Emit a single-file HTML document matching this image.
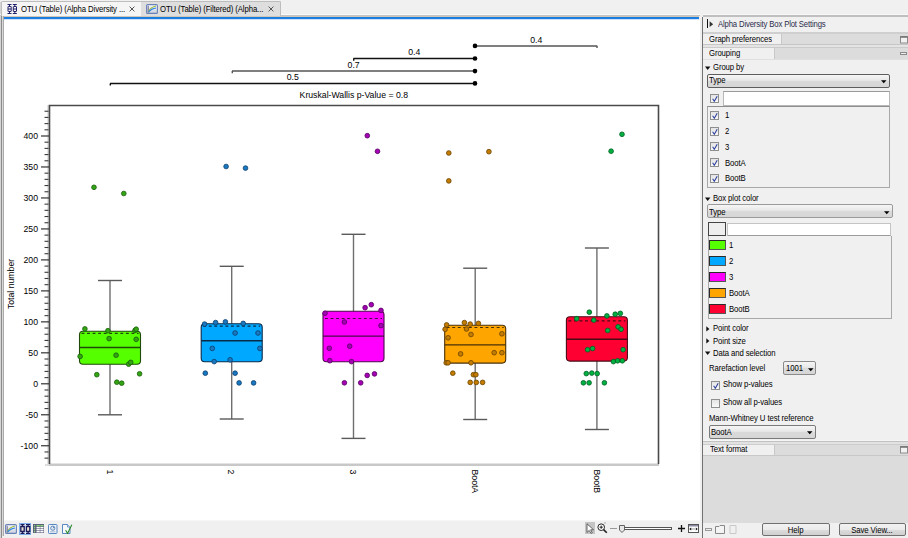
<!DOCTYPE html>
<html><head><meta charset="utf-8">
<style>
*{box-sizing:border-box;margin:0;padding:0}
html,body{width:908px;height:538px;overflow:hidden;background:#f0f0f0;font-family:"Liberation Sans",sans-serif;}
.a{position:absolute}
.t{position:absolute;font-size:8.6px;letter-spacing:-0.1px;color:#000;white-space:nowrap;line-height:10px;transform:scaleX(0.9);transform-origin:0 0}
svg text.ax{font-family:"Liberation Sans",sans-serif;font-size:8.7px;fill:#000}
.cb{position:absolute;width:9px;height:9px;border:1px solid #8e8f8f;background:linear-gradient(#e4e4e4,#f8f8f8)}
.ck{position:absolute;left:1px;top:0px;width:7px;height:7px}
.dd{position:absolute;border:1px solid #7a7a7a;border-radius:2px;background:linear-gradient(#f6f6f6 0%,#e8e8e8 45%,#dadada 50%,#d6d6d6 100%)}
.arr{position:absolute;width:0;height:0;border-left:2.75px solid transparent;border-right:2.75px solid transparent;border-top:3.5px solid #000}
.tri{position:absolute;width:0;height:0;border-left:2.4px solid transparent;border-right:2.4px solid transparent;border-top:3.4px solid #111}
.trr{position:absolute;width:0;height:0;border-top:2.3px solid transparent;border-bottom:2.3px solid transparent;border-left:3px solid #111}
.btn{position:absolute;border:1px solid #707070;border-radius:2px;background:linear-gradient(#f2f2f2 0%,#ebebeb 50%,#dddddd 51%,#cfcfcf 100%);text-align:center;line-height:10px;padding-top:0.6px}
.btn span{display:inline-block;vertical-align:top;line-height:10px;font-size:8.6px;letter-spacing:-0.1px;color:#000;transform:scaleX(0.9)}
</style></head><body>
<!-- left borders -->
<div class="a" style="left:0;top:0;width:4px;height:538px;background:#f0f0f0"></div>
<div class="a" style="left:0;top:2px;width:1px;height:536px;background:#d4d4d4"></div>
<div class="a" style="left:1px;top:2px;width:1px;height:536px;background:#8c8c8c"></div>
<div class="a" style="left:2px;top:16px;width:1px;height:520px;background:#d8d8d8"></div>
<div class="a" style="left:3px;top:16px;width:1px;height:520px;background:#ababab"></div>

<!-- tabs -->
<div class="a" style="left:0;top:14.3px;width:700px;height:0.7px;background:#fafafa"></div>
<div class="a" style="left:0;top:15px;width:700px;height:1px;background:#c4c4c4"></div>
<div class="a" style="left:1px;top:1.3px;width:141px;height:14.7px;background:#f5f5f5;border:1px solid #bdbdbd;border-bottom:none;border-radius:1.5px 1.5px 0 0"></div>
<div class="a" style="left:141px;top:1.3px;width:140px;height:14.7px;background:#dedede;border:1px solid #bdbdbd;border-bottom:none;border-left:none;border-radius:0 1.5px 0 0"></div>
<div class="a" style="left:4px;top:16px;width:695px;height:1px;background:#d2c6b8"></div>
<div class="a" style="left:4px;top:17px;width:695px;height:2px;background:#1a7de0"></div>
<div class="a" style="left:4px;top:19px;width:695px;height:1px;background:#cfe4fa"></div>
<!-- tab1 icon -->
<svg class="a" style="left:7px;top:4px" width="11" height="10" viewBox="0 0 11 10">
<g fill="none" stroke="#22226a" stroke-width="1">
<path d="M0.5 0.5H4.5M2.5 0.5V2.5M2.5 7.5V9.5M0.5 9.5H4.5M5.8 0.5H9.8M7.8 0.5V2.5M7.8 7.5V9.5M5.8 9.5H9.8"/>
<rect x="1" y="2.5" width="3.2" height="5" rx="0.3"/>
<rect x="6.3" y="2.5" width="3.2" height="5" rx="0.3"/>
<path d="M1 5H4M6.3 5H9.3"/>
</g></svg>
<div class="t" style="left:20.5px;top:3.5px">OTU (Table) (Alpha Diversity ...</div>
<svg class="a" style="left:129px;top:6px" width="6" height="6" viewBox="0 0 6 6"><path d="M0.6 0.6L5.4 5.4M5.4 0.6L0.6 5.4" stroke="#555" stroke-width="1"/></svg>
<!-- tab2 icon -->
<svg class="a" style="left:146px;top:4px" width="12" height="10" viewBox="0 0 12 10">
<defs><linearGradient id="cg2" x1="0" y1="0" x2="0" y2="1"><stop offset="0" stop-color="#fbfcfe"/><stop offset="1" stop-color="#c9cfdc"/></linearGradient></defs>
<rect x="0.6" y="0.6" width="10.8" height="8.8" rx="1" fill="url(#cg2)" stroke="#6a80b8" stroke-width="1.1"/>
<path d="M2.2 1.8V8.4" stroke="#5a5a7a" stroke-width="0.9"/>
<path d="M2.5 8.3 Q4 3.2 10 2" fill="none" stroke="#9ab83a" stroke-width="1.1"/>
<path d="M2.5 8.3 Q5 4.8 10 4" fill="none" stroke="#2a80e8" stroke-width="1.1"/>
</svg>
<div class="t" style="left:160px;top:3.5px">OTU (Table) (Filtered) (Alpha...</div>
<svg class="a" style="left:268px;top:6px" width="6" height="6" viewBox="0 0 6 6"><path d="M0.6 0.6L5.4 5.4M5.4 0.6L0.6 5.4" stroke="#555" stroke-width="1"/></svg>

<!-- content -->
<div class="a" style="left:4px;top:20px;width:696px;height:501px;background:#fff"></div>
<svg class="a" style="left:0;top:0" width="700" height="521" viewBox="0 0 700 521">
<rect x="47.3" y="105" width="2" height="359" fill="#d9d9d9"/>
<rect x="49" y="463.5" width="610" height="2.5" fill="#c8c8c8"/>
<path d="M49.5 464 V105.5 H658.5 V464" fill="none" stroke="#4a4a4a" stroke-width="1.6"/>
<line x1="44.5" y1="458.14" x2="48.5" y2="458.14" stroke="#3a3a3a" stroke-width="1.1"/>
<line x1="44.5" y1="451.95" x2="48.5" y2="451.95" stroke="#3a3a3a" stroke-width="1.1"/>
<line x1="41" y1="445.75" x2="49" y2="445.75" stroke="#333" stroke-width="1.2"/>
<text x="38" y="449.15" text-anchor="end" class="ax">-100</text>
<line x1="44.5" y1="439.56" x2="48.5" y2="439.56" stroke="#3a3a3a" stroke-width="1.1"/>
<line x1="44.5" y1="433.36" x2="48.5" y2="433.36" stroke="#3a3a3a" stroke-width="1.1"/>
<line x1="44.5" y1="427.17" x2="48.5" y2="427.17" stroke="#3a3a3a" stroke-width="1.1"/>
<line x1="44.5" y1="420.97" x2="48.5" y2="420.97" stroke="#3a3a3a" stroke-width="1.1"/>
<line x1="41" y1="414.78" x2="49" y2="414.78" stroke="#333" stroke-width="1.2"/>
<text x="38" y="418.18" text-anchor="end" class="ax">-50</text>
<line x1="44.5" y1="408.58" x2="48.5" y2="408.58" stroke="#3a3a3a" stroke-width="1.1"/>
<line x1="44.5" y1="402.38" x2="48.5" y2="402.38" stroke="#3a3a3a" stroke-width="1.1"/>
<line x1="44.5" y1="396.19" x2="48.5" y2="396.19" stroke="#3a3a3a" stroke-width="1.1"/>
<line x1="44.5" y1="390.00" x2="48.5" y2="390.00" stroke="#3a3a3a" stroke-width="1.1"/>
<line x1="41" y1="383.80" x2="49" y2="383.80" stroke="#333" stroke-width="1.2"/>
<text x="38" y="387.20" text-anchor="end" class="ax">0</text>
<line x1="44.5" y1="377.61" x2="48.5" y2="377.61" stroke="#3a3a3a" stroke-width="1.1"/>
<line x1="44.5" y1="371.41" x2="48.5" y2="371.41" stroke="#3a3a3a" stroke-width="1.1"/>
<line x1="44.5" y1="365.22" x2="48.5" y2="365.22" stroke="#3a3a3a" stroke-width="1.1"/>
<line x1="44.5" y1="359.02" x2="48.5" y2="359.02" stroke="#3a3a3a" stroke-width="1.1"/>
<line x1="41" y1="352.82" x2="49" y2="352.82" stroke="#333" stroke-width="1.2"/>
<text x="38" y="356.22" text-anchor="end" class="ax">50</text>
<line x1="44.5" y1="346.63" x2="48.5" y2="346.63" stroke="#3a3a3a" stroke-width="1.1"/>
<line x1="44.5" y1="340.44" x2="48.5" y2="340.44" stroke="#3a3a3a" stroke-width="1.1"/>
<line x1="44.5" y1="334.24" x2="48.5" y2="334.24" stroke="#3a3a3a" stroke-width="1.1"/>
<line x1="44.5" y1="328.05" x2="48.5" y2="328.05" stroke="#3a3a3a" stroke-width="1.1"/>
<line x1="41" y1="321.85" x2="49" y2="321.85" stroke="#333" stroke-width="1.2"/>
<text x="38" y="325.25" text-anchor="end" class="ax">100</text>
<line x1="44.5" y1="315.65" x2="48.5" y2="315.65" stroke="#3a3a3a" stroke-width="1.1"/>
<line x1="44.5" y1="309.46" x2="48.5" y2="309.46" stroke="#3a3a3a" stroke-width="1.1"/>
<line x1="44.5" y1="303.26" x2="48.5" y2="303.26" stroke="#3a3a3a" stroke-width="1.1"/>
<line x1="44.5" y1="297.07" x2="48.5" y2="297.07" stroke="#3a3a3a" stroke-width="1.1"/>
<line x1="41" y1="290.88" x2="49" y2="290.88" stroke="#333" stroke-width="1.2"/>
<text x="38" y="294.27" text-anchor="end" class="ax">150</text>
<line x1="44.5" y1="284.68" x2="48.5" y2="284.68" stroke="#3a3a3a" stroke-width="1.1"/>
<line x1="44.5" y1="278.49" x2="48.5" y2="278.49" stroke="#3a3a3a" stroke-width="1.1"/>
<line x1="44.5" y1="272.29" x2="48.5" y2="272.29" stroke="#3a3a3a" stroke-width="1.1"/>
<line x1="44.5" y1="266.10" x2="48.5" y2="266.10" stroke="#3a3a3a" stroke-width="1.1"/>
<line x1="41" y1="259.90" x2="49" y2="259.90" stroke="#333" stroke-width="1.2"/>
<text x="38" y="263.30" text-anchor="end" class="ax">200</text>
<line x1="44.5" y1="253.71" x2="48.5" y2="253.71" stroke="#3a3a3a" stroke-width="1.1"/>
<line x1="44.5" y1="247.51" x2="48.5" y2="247.51" stroke="#3a3a3a" stroke-width="1.1"/>
<line x1="44.5" y1="241.31" x2="48.5" y2="241.31" stroke="#3a3a3a" stroke-width="1.1"/>
<line x1="44.5" y1="235.12" x2="48.5" y2="235.12" stroke="#3a3a3a" stroke-width="1.1"/>
<line x1="41" y1="228.93" x2="49" y2="228.93" stroke="#333" stroke-width="1.2"/>
<text x="38" y="232.33" text-anchor="end" class="ax">250</text>
<line x1="44.5" y1="222.73" x2="48.5" y2="222.73" stroke="#3a3a3a" stroke-width="1.1"/>
<line x1="44.5" y1="216.53" x2="48.5" y2="216.53" stroke="#3a3a3a" stroke-width="1.1"/>
<line x1="44.5" y1="210.34" x2="48.5" y2="210.34" stroke="#3a3a3a" stroke-width="1.1"/>
<line x1="44.5" y1="204.15" x2="48.5" y2="204.15" stroke="#3a3a3a" stroke-width="1.1"/>
<line x1="41" y1="197.95" x2="49" y2="197.95" stroke="#333" stroke-width="1.2"/>
<text x="38" y="201.35" text-anchor="end" class="ax">300</text>
<line x1="44.5" y1="191.75" x2="48.5" y2="191.75" stroke="#3a3a3a" stroke-width="1.1"/>
<line x1="44.5" y1="185.56" x2="48.5" y2="185.56" stroke="#3a3a3a" stroke-width="1.1"/>
<line x1="44.5" y1="179.36" x2="48.5" y2="179.36" stroke="#3a3a3a" stroke-width="1.1"/>
<line x1="44.5" y1="173.17" x2="48.5" y2="173.17" stroke="#3a3a3a" stroke-width="1.1"/>
<line x1="41" y1="166.97" x2="49" y2="166.97" stroke="#333" stroke-width="1.2"/>
<text x="38" y="170.38" text-anchor="end" class="ax">350</text>
<line x1="44.5" y1="160.78" x2="48.5" y2="160.78" stroke="#3a3a3a" stroke-width="1.1"/>
<line x1="44.5" y1="154.58" x2="48.5" y2="154.58" stroke="#3a3a3a" stroke-width="1.1"/>
<line x1="44.5" y1="148.39" x2="48.5" y2="148.39" stroke="#3a3a3a" stroke-width="1.1"/>
<line x1="44.5" y1="142.19" x2="48.5" y2="142.19" stroke="#3a3a3a" stroke-width="1.1"/>
<line x1="41" y1="136.00" x2="49" y2="136.00" stroke="#333" stroke-width="1.2"/>
<text x="38" y="139.40" text-anchor="end" class="ax">400</text>
<line x1="44.5" y1="129.80" x2="48.5" y2="129.80" stroke="#3a3a3a" stroke-width="1.1"/>
<line x1="44.5" y1="123.61" x2="48.5" y2="123.61" stroke="#3a3a3a" stroke-width="1.1"/>
<line x1="44.5" y1="117.41" x2="48.5" y2="117.41" stroke="#3a3a3a" stroke-width="1.1"/>
<line x1="44.5" y1="111.22" x2="48.5" y2="111.22" stroke="#3a3a3a" stroke-width="1.1"/>
<line x1="45" y1="465" x2="49" y2="465" stroke="#bbb" stroke-width="1"/>
<text transform="translate(14.2,284) rotate(-90)" text-anchor="middle" class="ax">Total number</text>
<text x="353.8" y="98.2" text-anchor="middle" class="ax">Kruskal-Wallis p-Value = 0.8</text>
<line x1="110.0" y1="83.4" x2="475.0" y2="83.4" stroke="#111" stroke-width="1.5"/>
<line x1="110.3" y1="83.4" x2="110.3" y2="85.60000000000001" stroke="#111" stroke-width="1.4"/>
<circle cx="475" cy="83.4" r="2.3" fill="#000"/>
<text x="292.8" y="80.2" text-anchor="middle" class="ax">0.5</text>
<line x1="232.0" y1="71.1" x2="475.0" y2="71.1" stroke="#555" stroke-width="1.5"/>
<line x1="232.3" y1="71.1" x2="232.3" y2="73.3" stroke="#555" stroke-width="1.4"/>
<circle cx="475" cy="71.1" r="2.3" fill="#000"/>
<text x="353.6" y="67.7" text-anchor="middle" class="ax">0.7</text>
<line x1="353.4" y1="58.5" x2="475.0" y2="58.5" stroke="#111" stroke-width="1.5"/>
<line x1="353.7" y1="58.5" x2="353.7" y2="60.7" stroke="#111" stroke-width="1.4"/>
<circle cx="475" cy="58.5" r="2.3" fill="#000"/>
<text x="414.2" y="55.4" text-anchor="middle" class="ax">0.4</text>
<line x1="475.0" y1="45.9" x2="597.3" y2="45.9" stroke="#555" stroke-width="1.5"/>
<line x1="597.0" y1="45.9" x2="597.0" y2="48.1" stroke="#555" stroke-width="1.4"/>
<circle cx="475" cy="45.9" r="2.3" fill="#000"/>
<text x="536.3" y="42.9" text-anchor="middle" class="ax">0.4</text>
<line x1="110.0" y1="280.5" x2="110.0" y2="414.8" stroke="#6e6e6e" stroke-width="1.4"/>
<line x1="98.0" y1="280.5" x2="122.0" y2="280.5" stroke="#5a5a5a" stroke-width="1.4"/>
<line x1="98.0" y1="414.8" x2="122.0" y2="414.8" stroke="#5a5a5a" stroke-width="1.4"/>
<rect x="79.50" y="331.2" width="61" height="33.10" rx="3.5" ry="3.5" fill="#55ff00" stroke="#1f4a0a" stroke-width="1.1"/>
<line x1="79.50" y1="347.5" x2="140.50" y2="347.5" stroke="#1f4a0a" stroke-width="1.4"/>
<line x1="81.50" y1="333.3" x2="138.50" y2="333.3" stroke="#1f4a0a" stroke-width="1.2" stroke-dasharray="2.9,2.65"/>
<circle cx="94.0" cy="187.3" r="2.35" fill="#33a514" stroke="#1b5e0c" stroke-width="0.8"/>
<circle cx="123.8" cy="193.5" r="2.35" fill="#33a514" stroke="#1b5e0c" stroke-width="0.8"/>
<circle cx="84.9" cy="328.9" r="2.35" fill="#33a514" stroke="#1b5e0c" stroke-width="0.8"/>
<circle cx="107.9" cy="330.7" r="2.35" fill="#33a514" stroke="#1b5e0c" stroke-width="0.8"/>
<circle cx="135" cy="330.4" r="2.35" fill="#33a514" stroke="#1b5e0c" stroke-width="0.8"/>
<circle cx="136.2" cy="329.2" r="2.35" fill="#33a514" stroke="#1b5e0c" stroke-width="0.8"/>
<circle cx="109.1" cy="338.6" r="2.35" fill="#33a514" stroke="#1b5e0c" stroke-width="0.8"/>
<circle cx="136.2" cy="339.3" r="2.35" fill="#33a514" stroke="#1b5e0c" stroke-width="0.8"/>
<circle cx="80.1" cy="356.4" r="2.35" fill="#33a514" stroke="#1b5e0c" stroke-width="0.8"/>
<circle cx="116.1" cy="355.2" r="2.35" fill="#33a514" stroke="#1b5e0c" stroke-width="0.8"/>
<circle cx="128.7" cy="364.2" r="2.35" fill="#33a514" stroke="#1b5e0c" stroke-width="0.8"/>
<circle cx="130.7" cy="362.4" r="2.35" fill="#33a514" stroke="#1b5e0c" stroke-width="0.8"/>
<circle cx="96.8" cy="374.7" r="2.35" fill="#33a514" stroke="#1b5e0c" stroke-width="0.8"/>
<circle cx="139.6" cy="373.8" r="2.35" fill="#33a514" stroke="#1b5e0c" stroke-width="0.8"/>
<circle cx="116.8" cy="382.2" r="2.35" fill="#33a514" stroke="#1b5e0c" stroke-width="0.8"/>
<circle cx="121.7" cy="383.2" r="2.35" fill="#33a514" stroke="#1b5e0c" stroke-width="0.8"/>
<text transform="translate(106.70,469.5) rotate(90)" class="ax">1</text>
<line x1="231.7" y1="266.3" x2="231.7" y2="419.0" stroke="#6e6e6e" stroke-width="1.4"/>
<line x1="219.7" y1="266.3" x2="243.7" y2="266.3" stroke="#5a5a5a" stroke-width="1.4"/>
<line x1="219.7" y1="419.0" x2="243.7" y2="419.0" stroke="#5a5a5a" stroke-width="1.4"/>
<rect x="201.20" y="323.7" width="61" height="38.00" rx="3.5" ry="3.5" fill="#00a8ff" stroke="#0a2a4a" stroke-width="1.1"/>
<line x1="201.20" y1="340.8" x2="262.20" y2="340.8" stroke="#0a2a4a" stroke-width="1.4"/>
<line x1="203.20" y1="326.1" x2="260.20" y2="326.1" stroke="#0a2a4a" stroke-width="1.2" stroke-dasharray="2.9,2.65"/>
<circle cx="226.1" cy="166.5" r="2.35" fill="#1a78c0" stroke="#0b3f6e" stroke-width="0.8"/>
<circle cx="245.5" cy="168.1" r="2.35" fill="#1a78c0" stroke="#0b3f6e" stroke-width="0.8"/>
<circle cx="204.6" cy="324.1" r="2.35" fill="#1a78c0" stroke="#0b3f6e" stroke-width="0.8"/>
<circle cx="215.6" cy="322.6" r="2.35" fill="#1a78c0" stroke="#0b3f6e" stroke-width="0.8"/>
<circle cx="225.4" cy="321.9" r="2.35" fill="#1a78c0" stroke="#0b3f6e" stroke-width="0.8"/>
<circle cx="243.2" cy="323.4" r="2.35" fill="#1a78c0" stroke="#0b3f6e" stroke-width="0.8"/>
<circle cx="235.1" cy="333.0" r="2.35" fill="#1a78c0" stroke="#0b3f6e" stroke-width="0.8"/>
<circle cx="258" cy="333.0" r="2.35" fill="#1a78c0" stroke="#0b3f6e" stroke-width="0.8"/>
<circle cx="212.3" cy="348.4" r="2.35" fill="#1a78c0" stroke="#0b3f6e" stroke-width="0.8"/>
<circle cx="259.9" cy="348.4" r="2.35" fill="#1a78c0" stroke="#0b3f6e" stroke-width="0.8"/>
<circle cx="214.2" cy="361.6" r="2.35" fill="#1a78c0" stroke="#0b3f6e" stroke-width="0.8"/>
<circle cx="230.1" cy="359.8" r="2.35" fill="#1a78c0" stroke="#0b3f6e" stroke-width="0.8"/>
<circle cx="205.3" cy="373.2" r="2.35" fill="#1a78c0" stroke="#0b3f6e" stroke-width="0.8"/>
<circle cx="235.1" cy="373.2" r="2.35" fill="#1a78c0" stroke="#0b3f6e" stroke-width="0.8"/>
<circle cx="239.1" cy="382.9" r="2.35" fill="#1a78c0" stroke="#0b3f6e" stroke-width="0.8"/>
<circle cx="253.6" cy="382.9" r="2.35" fill="#1a78c0" stroke="#0b3f6e" stroke-width="0.8"/>
<text transform="translate(228.40,469.5) rotate(90)" class="ax">2</text>
<line x1="353.5" y1="234.3" x2="353.5" y2="438.4" stroke="#6e6e6e" stroke-width="1.4"/>
<line x1="341.5" y1="234.3" x2="365.5" y2="234.3" stroke="#5a5a5a" stroke-width="1.4"/>
<line x1="341.5" y1="438.4" x2="365.5" y2="438.4" stroke="#5a5a5a" stroke-width="1.4"/>
<rect x="323.00" y="311.2" width="61" height="50.60" rx="3.5" ry="3.5" fill="#ff00ff" stroke="#4a0a4a" stroke-width="1.1"/>
<line x1="323.00" y1="336.1" x2="384.00" y2="336.1" stroke="#4a0a4a" stroke-width="1.4"/>
<line x1="325.00" y1="318.5" x2="382.00" y2="318.5" stroke="#4a0a4a" stroke-width="1.2" stroke-dasharray="2.9,2.65"/>
<circle cx="367.3" cy="135.7" r="2.35" fill="#a400b4" stroke="#55005e" stroke-width="0.8"/>
<circle cx="377.5" cy="151.3" r="2.35" fill="#a400b4" stroke="#55005e" stroke-width="0.8"/>
<circle cx="325" cy="313.2" r="2.35" fill="#a400b4" stroke="#55005e" stroke-width="0.8"/>
<circle cx="365.1" cy="307.7" r="2.35" fill="#a400b4" stroke="#55005e" stroke-width="0.8"/>
<circle cx="371.3" cy="304.7" r="2.35" fill="#a400b4" stroke="#55005e" stroke-width="0.8"/>
<circle cx="381" cy="310.4" r="2.35" fill="#a400b4" stroke="#55005e" stroke-width="0.8"/>
<circle cx="344.4" cy="322" r="2.35" fill="#a400b4" stroke="#55005e" stroke-width="0.8"/>
<circle cx="381" cy="325.6" r="2.35" fill="#a400b4" stroke="#55005e" stroke-width="0.8"/>
<circle cx="329.3" cy="348.3" r="2.35" fill="#a400b4" stroke="#55005e" stroke-width="0.8"/>
<circle cx="349.7" cy="346.2" r="2.35" fill="#a400b4" stroke="#55005e" stroke-width="0.8"/>
<circle cx="329.8" cy="360.7" r="2.35" fill="#a400b4" stroke="#55005e" stroke-width="0.8"/>
<circle cx="351.5" cy="361.6" r="2.35" fill="#a400b4" stroke="#55005e" stroke-width="0.8"/>
<circle cx="367.2" cy="375.4" r="2.35" fill="#a400b4" stroke="#55005e" stroke-width="0.8"/>
<circle cx="374.5" cy="373.9" r="2.35" fill="#a400b4" stroke="#55005e" stroke-width="0.8"/>
<circle cx="344.4" cy="382.8" r="2.35" fill="#a400b4" stroke="#55005e" stroke-width="0.8"/>
<circle cx="360.7" cy="382.8" r="2.35" fill="#a400b4" stroke="#55005e" stroke-width="0.8"/>
<text transform="translate(350.20,469.5) rotate(90)" class="ax">3</text>
<line x1="475.2" y1="268.2" x2="475.2" y2="419.5" stroke="#6e6e6e" stroke-width="1.4"/>
<line x1="463.2" y1="268.2" x2="487.2" y2="268.2" stroke="#5a5a5a" stroke-width="1.4"/>
<line x1="463.2" y1="419.5" x2="487.2" y2="419.5" stroke="#5a5a5a" stroke-width="1.4"/>
<rect x="444.70" y="325.3" width="61" height="37.80" rx="3.5" ry="3.5" fill="#ffa500" stroke="#4a3208" stroke-width="1.1"/>
<line x1="444.70" y1="344.9" x2="505.70" y2="344.9" stroke="#4a3208" stroke-width="1.4"/>
<line x1="446.70" y1="327.5" x2="503.70" y2="327.5" stroke="#4a3208" stroke-width="1.2" stroke-dasharray="2.9,2.65"/>
<circle cx="448.8" cy="153" r="2.35" fill="#c47c00" stroke="#6a4200" stroke-width="0.8"/>
<circle cx="488.9" cy="151.7" r="2.35" fill="#c47c00" stroke="#6a4200" stroke-width="0.8"/>
<circle cx="448.8" cy="180.9" r="2.35" fill="#c47c00" stroke="#6a4200" stroke-width="0.8"/>
<circle cx="446.6" cy="324.9" r="2.35" fill="#c47c00" stroke="#6a4200" stroke-width="0.8"/>
<circle cx="445.1" cy="329.3" r="2.35" fill="#c47c00" stroke="#6a4200" stroke-width="0.8"/>
<circle cx="464.4" cy="322.6" r="2.35" fill="#c47c00" stroke="#6a4200" stroke-width="0.8"/>
<circle cx="470.2" cy="324.1" r="2.35" fill="#c47c00" stroke="#6a4200" stroke-width="0.8"/>
<circle cx="478.4" cy="323.4" r="2.35" fill="#c47c00" stroke="#6a4200" stroke-width="0.8"/>
<circle cx="466.5" cy="329" r="2.35" fill="#c47c00" stroke="#6a4200" stroke-width="0.8"/>
<circle cx="471" cy="334.5" r="2.35" fill="#c47c00" stroke="#6a4200" stroke-width="0.8"/>
<circle cx="501.9" cy="333.8" r="2.35" fill="#c47c00" stroke="#6a4200" stroke-width="0.8"/>
<circle cx="448.1" cy="337.8" r="2.35" fill="#c47c00" stroke="#6a4200" stroke-width="0.8"/>
<circle cx="460.6" cy="353.9" r="2.35" fill="#c47c00" stroke="#6a4200" stroke-width="0.8"/>
<circle cx="494.2" cy="352.7" r="2.35" fill="#c47c00" stroke="#6a4200" stroke-width="0.8"/>
<circle cx="501.9" cy="352.7" r="2.35" fill="#c47c00" stroke="#6a4200" stroke-width="0.8"/>
<circle cx="446.2" cy="362.8" r="2.35" fill="#c47c00" stroke="#6a4200" stroke-width="0.8"/>
<circle cx="448.1" cy="362.8" r="2.35" fill="#c47c00" stroke="#6a4200" stroke-width="0.8"/>
<circle cx="471" cy="362.8" r="2.35" fill="#c47c00" stroke="#6a4200" stroke-width="0.8"/>
<circle cx="452.8" cy="373.2" r="2.35" fill="#c47c00" stroke="#6a4200" stroke-width="0.8"/>
<circle cx="473.4" cy="374.7" r="2.35" fill="#c47c00" stroke="#6a4200" stroke-width="0.8"/>
<circle cx="475.9" cy="374.7" r="2.35" fill="#c47c00" stroke="#6a4200" stroke-width="0.8"/>
<circle cx="470.2" cy="382.4" r="2.35" fill="#c47c00" stroke="#6a4200" stroke-width="0.8"/>
<circle cx="476.3" cy="382.4" r="2.35" fill="#c47c00" stroke="#6a4200" stroke-width="0.8"/>
<circle cx="482.6" cy="382.4" r="2.35" fill="#c47c00" stroke="#6a4200" stroke-width="0.8"/>
<text transform="translate(471.90,469.5) rotate(90)" class="ax">BootA</text>
<line x1="596.9" y1="248.0" x2="596.9" y2="429.5" stroke="#6e6e6e" stroke-width="1.4"/>
<line x1="584.9" y1="248.0" x2="608.9" y2="248.0" stroke="#5a5a5a" stroke-width="1.4"/>
<line x1="584.9" y1="429.5" x2="608.9" y2="429.5" stroke="#5a5a5a" stroke-width="1.4"/>
<rect x="566.40" y="316.7" width="61" height="44.40" rx="3.5" ry="3.5" fill="#ff0033" stroke="#4a0a14" stroke-width="1.1"/>
<line x1="566.40" y1="339.3" x2="627.40" y2="339.3" stroke="#4a0a14" stroke-width="1.4"/>
<line x1="568.40" y1="320.9" x2="625.40" y2="320.9" stroke="#4a0a14" stroke-width="1.2" stroke-dasharray="2.9,2.65"/>
<circle cx="622" cy="134.3" r="2.35" fill="#00b040" stroke="#005e22" stroke-width="0.8"/>
<circle cx="611.1" cy="151.2" r="2.35" fill="#00b040" stroke="#005e22" stroke-width="0.8"/>
<circle cx="589.3" cy="312.2" r="2.35" fill="#00b040" stroke="#005e22" stroke-width="0.8"/>
<circle cx="576.7" cy="318.7" r="2.35" fill="#00b040" stroke="#005e22" stroke-width="0.8"/>
<circle cx="593.8" cy="320.1" r="2.35" fill="#00b040" stroke="#005e22" stroke-width="0.8"/>
<circle cx="606.9" cy="315.9" r="2.35" fill="#00b040" stroke="#005e22" stroke-width="0.8"/>
<circle cx="615.2" cy="314.2" r="2.35" fill="#00b040" stroke="#005e22" stroke-width="0.8"/>
<circle cx="620.3" cy="313.4" r="2.35" fill="#00b040" stroke="#005e22" stroke-width="0.8"/>
<circle cx="618.1" cy="326.8" r="2.35" fill="#00b040" stroke="#005e22" stroke-width="0.8"/>
<circle cx="621.1" cy="329.3" r="2.35" fill="#00b040" stroke="#005e22" stroke-width="0.8"/>
<circle cx="607.7" cy="330.5" r="2.35" fill="#00b040" stroke="#005e22" stroke-width="0.8"/>
<circle cx="587.6" cy="349.7" r="2.35" fill="#00b040" stroke="#005e22" stroke-width="0.8"/>
<circle cx="592.6" cy="348.5" r="2.35" fill="#00b040" stroke="#005e22" stroke-width="0.8"/>
<circle cx="623.1" cy="349.7" r="2.35" fill="#00b040" stroke="#005e22" stroke-width="0.8"/>
<circle cx="613.4" cy="361.6" r="2.35" fill="#00b040" stroke="#005e22" stroke-width="0.8"/>
<circle cx="617.6" cy="360.8" r="2.35" fill="#00b040" stroke="#005e22" stroke-width="0.8"/>
<circle cx="622.3" cy="360.8" r="2.35" fill="#00b040" stroke="#005e22" stroke-width="0.8"/>
<circle cx="586.3" cy="373.6" r="2.35" fill="#00b040" stroke="#005e22" stroke-width="0.8"/>
<circle cx="591.8" cy="373.1" r="2.35" fill="#00b040" stroke="#005e22" stroke-width="0.8"/>
<circle cx="597.2" cy="373.6" r="2.35" fill="#00b040" stroke="#005e22" stroke-width="0.8"/>
<circle cx="583.4" cy="382.8" r="2.35" fill="#00b040" stroke="#005e22" stroke-width="0.8"/>
<circle cx="589.1" cy="382.8" r="2.35" fill="#00b040" stroke="#005e22" stroke-width="0.8"/>
<circle cx="604.4" cy="382.8" r="2.35" fill="#00b040" stroke="#005e22" stroke-width="0.8"/>
<text transform="translate(593.60,469.5) rotate(90)" class="ax">BootB</text>
</svg>

<!-- bottom toolbar left -->
<div class="a" style="left:4px;top:521px;width:696px;height:17px;background:#f0f0f0"></div>
<div class="a" style="left:4px;top:520px;width:696px;height:1px;background:#f6f6f6"></div>
<svg class="a" style="left:5px;top:524px" width="12" height="10" viewBox="0 0 12 10">
<defs><linearGradient id="cg" x1="0" y1="0" x2="0" y2="1"><stop offset="0" stop-color="#fbfcfe"/><stop offset="1" stop-color="#c9cfdc"/></linearGradient></defs>
<rect x="0.6" y="0.6" width="10.8" height="8.8" rx="1" fill="url(#cg)" stroke="#6a80b8" stroke-width="1.1"/>
<path d="M2.2 1.8V8.4" stroke="#5a5a7a" stroke-width="0.9"/>
<path d="M2.5 8.3 Q4 3.2 10 2" fill="none" stroke="#9ab83a" stroke-width="1.1"/>
<path d="M2.5 8.3 Q5 4.8 10 4" fill="none" stroke="#2a80e8" stroke-width="1.1"/>
</svg>
<div class="a" style="left:19px;top:523px;width:12px;height:12px;background:#dce9f8;border:1px solid #7fb0ec"></div>
<svg class="a" style="left:20px;top:524px" width="11" height="10" viewBox="0 0 11 10">
<g fill="none" stroke="#1a1a5a" stroke-width="1.3">
<path d="M0.5 0.6H4.5M2.5 0.6V9.4M0.5 9.4H4.5M6 0.6H10.2M8.1 0.6V9.4M6 9.4H10.2"/>
<rect x="0.8" y="2.6" width="3.4" height="4.8" fill="#e8e0d0"/>
<rect x="6.4" y="2.6" width="3.4" height="4.8" fill="#e8e0d0"/>
</g></svg>
<svg class="a" style="left:33px;top:524px" width="11" height="10" viewBox="0 0 11 10">
<rect x="0" y="0" width="11" height="9" fill="#5a5e7e"/>
<rect x="3.5" y="1" width="3.3" height="1.4" fill="#8ed878"/><rect x="7.3" y="1" width="3.2" height="1.4" fill="#8ed878"/>
<rect x="3.5" y="3" width="3.3" height="1.4" fill="#fff"/><rect x="7.3" y="3" width="3.2" height="1.4" fill="#fff"/>
<rect x="3.5" y="5" width="3.3" height="1.4" fill="#fff"/><rect x="7.3" y="5" width="3.2" height="1.4" fill="#fff"/>
<rect x="3.5" y="7" width="3.3" height="1.4" fill="#fff"/><rect x="7.3" y="7" width="3.2" height="1.4" fill="#fff"/>
<circle cx="1.6" cy="1.7" r="0.7" fill="#8ed878"/><circle cx="1.6" cy="3.7" r="0.7" fill="#8ed878"/><circle cx="1.6" cy="5.7" r="0.7" fill="#8ed878"/><circle cx="1.6" cy="7.7" r="0.7" fill="#8ed878"/>
</svg>
<svg class="a" style="left:48px;top:524px" width="10" height="10" viewBox="0 0 10 10">
<rect x="0.5" y="0.5" width="8.5" height="9" rx="0.8" fill="#eef2f8" stroke="#5a88c0" stroke-width="1"/>
<circle cx="4.8" cy="4.2" r="2.1" fill="none" stroke="#4a78b0" stroke-width="0.9"/>
<path d="M4.8 4.2L5.8 3.4" stroke="#1a4a8a" stroke-width="0.9"/>
<rect x="2" y="7.3" width="5.5" height="1" fill="#a8bcd8"/>
</svg>
<svg class="a" style="left:62px;top:524px" width="11" height="10" viewBox="0 0 11 10">
<path d="M0.5 0.5H5.5L8 3V9.5H0.5Z" fill="#f6f8fc" stroke="#5a88c0" stroke-width="1"/>
<path d="M5.5 0.5V3H8" fill="#dde6f2" stroke="#5a88c0" stroke-width="0.8"/>
<path d="M3.6 6.3L5.6 9.4L9.8 0.8" fill="none" stroke="#2a8a2a" stroke-width="1.1"/>
</svg>
<!-- zoom controls -->
<div class="a" style="left:585px;top:522px;width:10px;height:12px;background:#c4c4c4"></div>
<svg class="a" style="left:586px;top:523px" width="9" height="11" viewBox="0 0 9 11"><path d="M1 0.8V9.5L3.2 7.4L5 10.4L6.3 9.7L4.6 6.8H7.6Z" fill="#fff" stroke="#555" stroke-width="0.9"/></svg>
<svg class="a" style="left:597px;top:522px" width="11" height="12" viewBox="0 0 11 12">
<circle cx="4.2" cy="5.2" r="3.3" fill="#fff" stroke="#222" stroke-width="1"/>
<path d="M2.6 5.2H5.8M4.2 3.6V6.8" stroke="#222" stroke-width="1"/>
<path d="M6.6 7.6L9.8 10.8" stroke="#222" stroke-width="1.6"/>
<path d="M8 0.5V1.5" stroke="#444" stroke-width="0.8"/>
</svg>
<div class="a" style="left:610px;top:528px;width:7px;height:1px;background:#999"></div>
<div class="a" style="left:622px;top:527px;width:50px;height:3px;border:1px solid #555;background:#fff"></div>
<svg class="a" style="left:619px;top:525px" width="6" height="8" viewBox="0 0 6 8"><path d="M0.5 0.5H5.5V5L3 7.5L0.5 5Z" fill="#e6e6e6" stroke="#555" stroke-width="0.9"/></svg>
<svg class="a" style="left:678px;top:525px" width="7" height="7" viewBox="0 0 7 7"><path d="M3.5 0V7M0 3.5H7" stroke="#111" stroke-width="1.3"/></svg>
<svg class="a" style="left:688px;top:524px" width="11" height="9" viewBox="0 0 11 9">
<rect x="0.5" y="0.5" width="10" height="8" fill="#fff" stroke="#555" stroke-width="1"/>
<rect x="1" y="1" width="9" height="1.5" fill="#8a8aa6"/>
<path d="M1.2 5L3.2 3.6V6.4Z M9.8 5L7.8 3.6V6.4Z" fill="#111"/>
<path d="M3.5 5H7.5" stroke="#222" stroke-width="0.9" stroke-dasharray="1,1"/>
</svg>

<!-- divider -->
<div class="a" style="left:700px;top:16px;width:2px;height:522px;background:#f0f0f0"></div>
<div class="a" style="left:702px;top:17px;width:1px;height:521px;background:#727272"></div>

<!-- right panel -->
<div class="a" style="left:703px;top:14.3px;width:205px;height:0.8px;background:#f8f8f8"></div>
<div class="a" style="left:703px;top:15px;width:205px;height:2.4px;background:#bfbfbf"></div>
<div class="a" style="left:703px;top:17.4px;width:205px;height:14px;background:#f0f0f0"></div>
<div class="a" style="left:707px;top:19px;width:1px;height:9px;background:#111"></div>
<svg class="a" style="left:709px;top:20.5px" width="6" height="8" viewBox="0 0 6 8"><path d="M0.6 0.3V6.1L4.2 3.2Z" fill="#333"/></svg>
<div class="t" style="left:717.5px;top:19.1px;color:#2b2b4a;letter-spacing:-0.17px">Alpha Diversity Box Plot Settings</div>
<div class="a" style="left:703px;top:31.5px;width:205px;height:2px;background:#cfcfcf"></div>
<!-- graph preferences tab -->
<div class="a" style="left:703px;top:33.5px;width:205px;height:10.5px;background:#dcdcdc"></div>
<div class="a" style="left:703px;top:33.5px;width:79px;height:10.5px;background:#f0f0f0;border-right:1px solid #c8c8c8"></div>
<div class="t" style="left:709.3px;top:33.7px">Graph preferences</div>
<svg class="a" style="left:899.5px;top:35.5px" width="8" height="8" viewBox="0 0 8 8"><rect x="0.5" y="0.5" width="7" height="6.5" fill="#f2f2f2" stroke="#8a8a8a" stroke-width="1"/><rect x="0.5" y="0.5" width="7" height="1.2" fill="#666"/></svg>
<div class="a" style="left:703px;top:44px;width:205px;height:1.2px;background:#c6c6c6"></div>
<div class="a" style="left:703px;top:45.2px;width:205px;height:1.5px;background:#e4e4e4"></div>
<div class="a" style="left:703px;top:46.7px;width:205px;height:1px;background:#cacaca"></div>
<!-- grouping tab -->
<div class="a" style="left:703px;top:47.7px;width:205px;height:11px;background:#dcdcdc"></div>
<div class="a" style="left:703px;top:47.7px;width:72px;height:11px;background:#f0f0f0;border-right:1px solid #c8c8c8"></div>
<div class="t" style="left:709px;top:47.5px">Grouping</div>
<div class="a" style="left:899.5px;top:52px;width:7.5px;height:2.8px;border:1px solid #8a8a8a;background:#eee"></div>
<div class="a" style="left:703px;top:58.7px;width:205px;height:0.6px;background:#e0e0e0"></div>

<!-- group by -->
<svg class="a" style="left:705.3px;top:65.8px" width="6" height="5" viewBox="0 0 6 5"><path d="M0 0.5H5.4L2.7 4Z" fill="#111"/></svg>
<div class="t" style="left:712.5px;top:62.4px">Group by</div>
<div class="dd" style="left:707px;top:74px;width:183px;height:14px;border-color:#5e5e5e"></div>
<div class="t" style="left:709px;top:75.1px">Type</div>
<svg class="a" style="left:881.3px;top:79.8px" width="7" height="5" viewBox="0 0 7 5"><path d="M0 0.3H5.5L2.75 3.3Z" fill="#000"/></svg>
<!-- header checkbox + field -->
<div class="cb" style="left:709.5px;top:94px"></div>
<svg class="a" style="left:710.5px;top:95px" width="8" height="8" viewBox="0 0 8 8"><path d="M1.6 3.8L3.3 6.3L6.2 1.2" fill="none" stroke="#2b3c9c" stroke-width="1.05"/></svg>
<div class="a" style="left:723px;top:91px;width:167px;height:15px;background:#fff;border:1px solid #b8b8b8;border-top-color:#9a9a9a"></div>
<!-- list -->
<div class="a" style="left:707px;top:106px;width:183px;height:82px;border:1px solid #a8a8a8;border-top-color:#8e8e8e;background:#f0f0f0"></div>
<div class="cb" style="left:710px;top:110.70px"></div>
<svg class="a" style="left:711px;top:111.70px" width="8" height="8" viewBox="0 0 8 8"><path d="M1.6 3.8L3.3 6.3L6.2 1.2" fill="none" stroke="#2b3c9c" stroke-width="1.05"/></svg>
<div class="t" style="left:725px;top:110.00px">1</div>
<div class="cb" style="left:710px;top:126.55px"></div>
<svg class="a" style="left:711px;top:127.55px" width="8" height="8" viewBox="0 0 8 8"><path d="M1.6 3.8L3.3 6.3L6.2 1.2" fill="none" stroke="#2b3c9c" stroke-width="1.05"/></svg>
<div class="t" style="left:725px;top:125.85px">2</div>
<div class="cb" style="left:710px;top:142.40px"></div>
<svg class="a" style="left:711px;top:143.40px" width="8" height="8" viewBox="0 0 8 8"><path d="M1.6 3.8L3.3 6.3L6.2 1.2" fill="none" stroke="#2b3c9c" stroke-width="1.05"/></svg>
<div class="t" style="left:725px;top:141.70px">3</div>
<div class="cb" style="left:710px;top:158.25px"></div>
<svg class="a" style="left:711px;top:159.25px" width="8" height="8" viewBox="0 0 8 8"><path d="M1.6 3.8L3.3 6.3L6.2 1.2" fill="none" stroke="#2b3c9c" stroke-width="1.05"/></svg>
<div class="t" style="left:725px;top:157.55px">BootA</div>
<div class="cb" style="left:710px;top:174.10px"></div>
<svg class="a" style="left:711px;top:175.10px" width="8" height="8" viewBox="0 0 8 8"><path d="M1.6 3.8L3.3 6.3L6.2 1.2" fill="none" stroke="#2b3c9c" stroke-width="1.05"/></svg>
<div class="t" style="left:725px;top:173.40px">BootB</div>

<!-- box plot color -->
<svg class="a" style="left:704.9px;top:196.5px" width="6" height="5" viewBox="0 0 6 5"><path d="M0 0.5H5.4L2.7 4Z" fill="#111"/></svg>
<div class="t" style="left:712.5px;top:193px">Box plot color</div>
<div class="dd" style="left:707px;top:204px;width:186px;height:14px;border-color:#9a9a9a"></div>
<div class="t" style="left:709px;top:206.7px">Type</div>
<svg class="a" style="left:883.8px;top:210.6px" width="7" height="5" viewBox="0 0 7 5"><path d="M0 0.3H5.5L2.75 3.3Z" fill="#000"/></svg>
<div class="a" style="left:708px;top:222px;width:18px;height:14px;border:1px solid #444;background:#eeeeee"></div>
<div class="a" style="left:727px;top:222.5px;width:164px;height:13.5px;background:#fff;border:1px solid #c4c4c4;border-bottom-color:#9c9c9c"></div>
<div class="a" style="left:708px;top:236px;width:183.5px;height:82.5px;border:1px solid #a8a8a8;border-top:none;background:#f0f0f0"></div>
<div class="a" style="left:708.8px;top:240.40px;width:17.2px;height:10px;background:#55ff00;border:1px solid #2a2a2a;border-right-color:#555;border-bottom-color:#555"></div>
<div class="t" style="left:729px;top:240.10px">1</div>
<div class="a" style="left:708.8px;top:256.25px;width:17.2px;height:10px;background:#00a8ff;border:1px solid #2a2a2a;border-right-color:#555;border-bottom-color:#555"></div>
<div class="t" style="left:729px;top:255.95px">2</div>
<div class="a" style="left:708.8px;top:272.10px;width:17.2px;height:10px;background:#ff00ff;border:1px solid #2a2a2a;border-right-color:#555;border-bottom-color:#555"></div>
<div class="t" style="left:729px;top:271.80px">3</div>
<div class="a" style="left:708.8px;top:287.95px;width:17.2px;height:10px;background:#ffa500;border:1px solid #2a2a2a;border-right-color:#555;border-bottom-color:#555"></div>
<div class="t" style="left:729px;top:287.65px">BootA</div>
<div class="a" style="left:708.8px;top:303.80px;width:17.2px;height:10px;background:#ff0033;border:1px solid #2a2a2a;border-right-color:#555;border-bottom-color:#555"></div>
<div class="t" style="left:729px;top:303.50px">BootB</div>

<svg class="a" style="left:706.3px;top:325.7px" width="5" height="6" viewBox="0 0 5 6"><path d="M0.3 0.2V5.6L3.4 2.9Z" fill="#111"/></svg>
<div class="t" style="left:712.5px;top:322.8px">Point color</div>
<svg class="a" style="left:706.3px;top:337.8px" width="5" height="6" viewBox="0 0 5 6"><path d="M0.3 0.2V5.6L3.4 2.9Z" fill="#111"/></svg>
<div class="t" style="left:712.5px;top:335.5px">Point size</div>
<svg class="a" style="left:705.3px;top:351.1px" width="6" height="5" viewBox="0 0 6 5"><path d="M0 0.5H5.4L2.7 4Z" fill="#111"/></svg>
<div class="t" style="left:712.5px;top:348px">Data and selection</div>
<div class="t" style="left:708.5px;top:363px">Rarefaction level</div>
<div class="dd" style="left:783px;top:361.3px;width:33px;height:14px;border-color:#8a8a8a"></div>
<div class="t" style="left:785.8px;top:363px">1001</div>
<svg class="a" style="left:807.8px;top:367.9px" width="7" height="5" viewBox="0 0 7 5"><path d="M0 0.3H5.5L2.75 3.3Z" fill="#000"/></svg>
<div class="cb" style="left:711px;top:381px"></div>
<svg class="a" style="left:712px;top:382px" width="8" height="8" viewBox="0 0 8 8"><path d="M1.6 3.8L3.3 6.3L6.2 1.2" fill="none" stroke="#2b3c9c" stroke-width="1.05"/></svg>
<div class="t" style="left:723px;top:379.4px">Show p-values</div>
<div class="cb" style="left:711px;top:399px"></div>
<div class="t" style="left:723px;top:397.3px">Show all p-values</div>
<div class="t" style="left:708.5px;top:412.6px">Mann-Whitney U test reference</div>
<div class="dd" style="left:709px;top:424.8px;width:107px;height:14px;border-color:#7a7a7a"></div>
<div class="t" style="left:711px;top:426.5px">BootA</div>
<svg class="a" style="left:807.0px;top:431.0px" width="7" height="5" viewBox="0 0 7 5"><path d="M0 0.3H5.5L2.75 3.3Z" fill="#000"/></svg>

<div class="a" style="left:703px;top:439.5px;width:205px;height:1.5px;background:#f6f6f6"></div>
<div class="a" style="left:703px;top:441px;width:205px;height:1.2px;background:#c2c2c2"></div>
<div class="a" style="left:703px;top:442.2px;width:205px;height:1.6px;background:#e2e2e2"></div>
<div class="a" style="left:703px;top:443.8px;width:205px;height:1px;background:#cdcdcd"></div>
<!-- text format tab -->
<div class="a" style="left:703px;top:444.8px;width:205px;height:10.2px;background:#dcdcdc"></div>
<div class="a" style="left:703px;top:444.8px;width:72px;height:10.2px;background:#f0f0f0;border-right:1px solid #c8c8c8"></div>
<div class="t" style="left:709.5px;top:443.9px">Text format</div>
<svg class="a" style="left:899.5px;top:446px" width="8" height="8" viewBox="0 0 8 8"><rect x="0.5" y="0.5" width="7" height="6.5" fill="#f2f2f2" stroke="#8a8a8a" stroke-width="1"/><rect x="0.5" y="0.5" width="7" height="1.2" fill="#666"/></svg>
<div class="a" style="left:703px;top:455px;width:205px;height:1.2px;background:#c8c8c8"></div>
<div class="a" style="left:703px;top:456.2px;width:205px;height:66.8px;background:#dcdcdc"></div>
<!-- bottom buttons -->
<div class="a" style="left:703px;top:523px;width:205px;height:15px;background:#f0f0f0"></div>
<div class="a" style="left:705px;top:528px;width:7px;height:3px;border:1px solid #9a9a9a;background:#eee"></div>
<svg class="a" style="left:715px;top:525px" width="10" height="9" viewBox="0 0 10 9"><path d="M0.5 1.5H4L5 0.5H9.5V8.5H0.5Z" fill="#f4f4f4" stroke="#888" stroke-width="1"/></svg>
<svg class="a" style="left:729px;top:525px" width="8" height="9" viewBox="0 0 8 9"><path d="M1 0.5H7V8.5H1Z" fill="none" stroke="#c8c8c8" stroke-width="1"/></svg>
<div class="btn" style="left:762px;top:523px;width:67.5px;height:13px"><span>Help</span></div>
<div class="btn" style="left:838.5px;top:523px;width:67px;height:13px"><span>Save View...</span></div>
</body></html>
